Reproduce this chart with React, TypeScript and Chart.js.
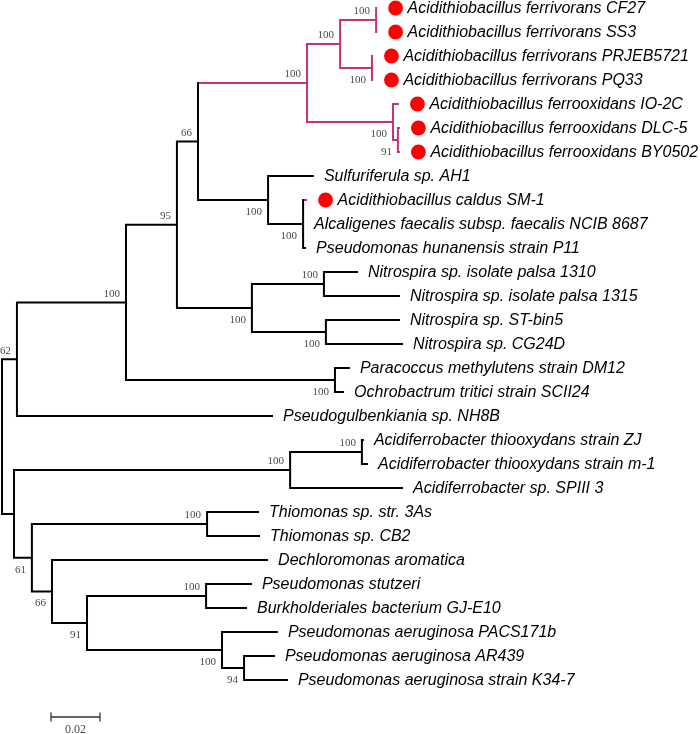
import React, { useEffect, useRef } from "react";
import { Chart, registerables } from "chart.js";

Chart.register(...registerables);

// ---- Leaves (top to bottom) ----
const leafNames: string[] = [
  "Acidithiobacillus ferrivorans CF27",
  "Acidithiobacillus ferrivorans SS3",
  "Acidithiobacillus ferrivorans PRJEB5721",
  "Acidithiobacillus ferrivorans PQ33",
  "Acidithiobacillus ferrooxidans IO-2C",
  "Acidithiobacillus ferrooxidans DLC-5",
  "Acidithiobacillus ferrooxidans BY0502",
  "Sulfuriferula sp. AH1",
  "Acidithiobacillus caldus SM-1",
  "Alcaligenes faecalis subsp. faecalis NCIB 8687",
  "Pseudomonas hunanensis strain P11",
  "Nitrospira sp. isolate palsa 1310",
  "Nitrospira sp. isolate palsa 1315",
  "Nitrospira sp. ST-bin5",
  "Nitrospira sp. CG24D",
  "Paracoccus methylutens strain DM12",
  "Ochrobactrum tritici strain SCII24",
  "Pseudogulbenkiania sp. NH8B",
  "Acidiferrobacter thiooxydans strain ZJ",
  "Acidiferrobacter thiooxydans strain m-1",
  "Acidiferrobacter sp. SPIII 3",
  "Thiomonas sp. str. 3As",
  "Thiomonas sp. CB2",
  "Dechloromonas aromatica",
  "Pseudomonas stutzeri",
  "Burkholderiales bacterium GJ-E10",
  "Pseudomonas aeruginosa PACS171b",
  "Pseudomonas aeruginosa AR439",
  "Pseudomonas aeruginosa strain K34-7",
];

// cumulative distance from root to each tip
const leafDepths: number[] = [
  0.1527, 0.1527, 0.151, 0.151, 0.1616, 0.162, 0.162, 0.1269, 0.1241, 0.1229,
  0.1237, 0.1449, 0.162, 0.162, 0.1633, 0.1416, 0.1392, 0.1102, 0.1473, 0.149,
  0.1633, 0.1045, 0.1049, 0.1082, 0.1016, 0.0996, 0.1122, 0.111, 0.1163,
];

// leaves marked with a red dot
const markedLeaves: number[] = [0, 1, 2, 3, 4, 5, 6, 8];
// leaves whose branch is drawn in the highlight colour
const highlightLeaves: number[] = [0, 1, 2, 3, 4, 5, 6, 8];

// ---- Internal nodes ----
const nodeIds: string[] = [
  "S", "R", "P", "I", "G", "C", "B", "A", "D", "E", "F", "H", "J", "L",
  "M", "N", "Q", "T", "U", "W", "V", "X", "Y", "Z", "AA", "AB", "AC",
];
const nodeDepths: number[] = [
  0, 0.0061, 0.0506, 0.0714, 0.08, 0.1245, 0.138, 0.1527, 0.151, 0.1596,
  0.1616, 0.1086, 0.1229, 0.102, 0.1314, 0.1322, 0.1359, 0.0049, 0.1176,
  0.1469, 0.0122, 0.0837, 0.0204, 0.0347, 0.0833, 0.0898, 0.0988,
];
const nodeChildren: (number | string)[][] = [
  ["R", "T"], // S (root)
  ["P", 17], // R
  ["I", "Q"], // P
  ["G", "L"], // I
  ["C", "H"], // G
  ["B", "E"], // C
  ["A", "D"], // B
  [0, 1], // A
  [2, 3], // D
  [4, "F"], // E
  [5, 6], // F
  [7, "J"], // H
  [8, 9, 10], // J
  ["M", "N"], // L
  [11, 12], // M
  [13, 14], // N
  [15, 16], // Q
  ["U", "V"], // T
  ["W", 20], // U
  [18, 19], // W
  ["X", "Y"], // V
  [21, 22], // X
  [23, "Z"], // Y
  ["AA", "AB"], // Z
  [24, 25], // AA
  [26, "AC"], // AB
  [27, 28], // AC
];
const nodeSupport: (number | null)[] = [
  null, 62, 100, 95, 66, 100, 100, 100, 100, 100, 91, 100, 100, 100, 100,
  100, 100, null, 100, 100, 61, 100, 66, 91, 100, 100, 94,
];
const highlightNodes: string[] = ["C", "B", "A", "D", "E", "F"];

const scaleBarLength = 0.02;
const scaleBarLabel = "0.02";

const BLACK = "#000000";
const PINK = "#c2347a";

type Pt = { x: number; y: number };

function buildTree() {
  const idx: Record<string, number> = {};
  nodeIds.forEach((id, i) => (idx[id] = i));
  const yOf = (c: number | string): number => {
    if (typeof c === "number") return c;
    const ch = nodeChildren[idx[c]];
    return (yOf(ch[0]) + yOf(ch[ch.length - 1])) / 2;
  };
  const depthOf = (c: number | string) =>
    typeof c === "number" ? leafDepths[c] : nodeDepths[idx[c]];
  const isPink = (c: number | string) =>
    typeof c === "number" ? highlightLeaves.includes(c) : highlightNodes.includes(c);

  const black: Pt[] = [];
  const pink: Pt[] = [];
  const gap = () => ({ x: NaN, y: NaN });
  const supports: { x: number; y: number; text: string; above: boolean }[] = [];
  const parentInfo: Record<string, { first: boolean }> = {};
  nodeChildren.forEach((ch) => {
    ch.forEach((c, k) => {
      if (typeof c === "string") parentInfo[c] = { first: k === 0 };
    });
  });

  nodeIds.forEach((id, i) => {
    const ch = nodeChildren[i];
    const d = nodeDepths[i];
    const y0 = yOf(ch[0]);
    const y1 = yOf(ch[ch.length - 1]);
    const vArr = isPink(id) ? pink : black;
    vArr.push({ x: d, y: y0 }, { x: d, y: y1 }, gap());
    ch.forEach((c) => {
      const cd = depthOf(c);
      const cy = yOf(c);
      if (cd > d) {
        const hArr = isPink(c) ? pink : black;
        hArr.push({ x: d, y: cy }, { x: cd, y: cy }, gap());
      }
    });
    const s = nodeSupport[i];
    if (s !== null) {
      supports.push({
        x: d,
        y: yOf(id),
        text: String(s),
        above: parentInfo[id] ? parentInfo[id].first : true,
      });
    }
  });
  return { black, pink, supports };
}

export default function App() {
  const ref = useRef<HTMLCanvasElement>(null);

  useEffect(() => {
    document.body.style.margin = "0";
    const canvas = ref.current;
    if (!canvas) return;
    const { black, pink, supports } = buildTree();

    const treePlugin = {
      id: "treeLabels",
      afterDatasetsDraw(chart: any) {
        const ctx = chart.ctx as CanvasRenderingContext2D;
        const xs = chart.scales.x;
        const ys = chart.scales.y;
        ctx.save();
        // leaf labels and dots
        leafNames.forEach((name, i) => {
          const px = xs.getPixelForValue(leafDepths[i]);
          const py = ys.getPixelForValue(i);
          let tx = px + 11;
          if (markedLeaves.includes(i)) {
            ctx.beginPath();
            ctx.fillStyle = "#ff0000";
            ctx.arc(px + 19.5, py, 7.4, 0, Math.PI * 2);
            ctx.fill();
            tx = px + 31.5;
          }
          ctx.fillStyle = "#000000";
          ctx.font = 'italic 16px "Liberation Sans", Arial, sans-serif';
          ctx.textAlign = "left";
          ctx.textBaseline = "middle";
          ctx.fillText(name, tx, py + 1);
        });
        // support values
        ctx.fillStyle = "#4a4a4a";
        ctx.font = '11px "Liberation Serif", "Times New Roman", serif';
        ctx.textAlign = "right";
        ctx.textBaseline = "middle";
        supports.forEach((s) => {
          const px = xs.getPixelForValue(s.x);
          const py = ys.getPixelForValue(s.y);
          ctx.fillText(s.text, px - 6, s.above ? py - 8.5 : py + 12);
        });
        // scale bar
        const len = xs.getPixelForValue(scaleBarLength) - xs.getPixelForValue(0);
        const bx = 51;
        const by = 717;
        ctx.strokeStyle = "#333333";
        ctx.lineWidth = 1.3;
        ctx.beginPath();
        ctx.moveTo(bx, by);
        ctx.lineTo(bx + len, by);
        ctx.moveTo(bx, by - 4.5);
        ctx.lineTo(bx, by + 4.5);
        ctx.moveTo(bx + len, by - 4.5);
        ctx.lineTo(bx + len, by + 4.5);
        ctx.stroke();
        ctx.fillStyle = "#4a4a4a";
        ctx.font = '12px "Liberation Serif", "Times New Roman", serif';
        ctx.textAlign = "center";
        ctx.fillText(scaleBarLabel, bx + len / 2, by + 12.5);
        ctx.restore();
      },
    };

    const chart = new Chart(canvas, {
      type: "scatter",
      data: {
        datasets: [
          {
            data: black,
            showLine: true,
            borderColor: BLACK,
            borderWidth: 2,
            borderCapStyle: "square",
            pointRadius: 0,
            pointHoverRadius: 0,
            spanGaps: false,
          } as any,
          {
            data: pink,
            showLine: true,
            borderColor: PINK,
            borderWidth: 2,
            borderCapStyle: "square",
            pointRadius: 0,
            pointHoverRadius: 0,
            spanGaps: false,
          } as any,
        ],
      },
      options: {
        animation: false,
        responsive: false,
        devicePixelRatio: 1,
        events: [],
        layout: { padding: 0 },
        plugins: {
          legend: { display: false },
          tooltip: { enabled: false },
          title: { display: false },
        },
        scales: {
          x: {
            type: "linear",
            display: false,
            min: -2 / 2450,
            max: 698 / 2450,
          },
          y: {
            type: "linear",
            display: false,
            reverse: true,
            min: -1 / 3,
            max: 30.25,
          },
        },
      },
      plugins: [treePlugin],
    });
    return () => chart.destroy();
  }, []);

  return (
    <canvas
      ref={ref}
      width={700}
      height={734}
      style={{ display: "block", width: 700, height: 734 }}
    />
  );
}
